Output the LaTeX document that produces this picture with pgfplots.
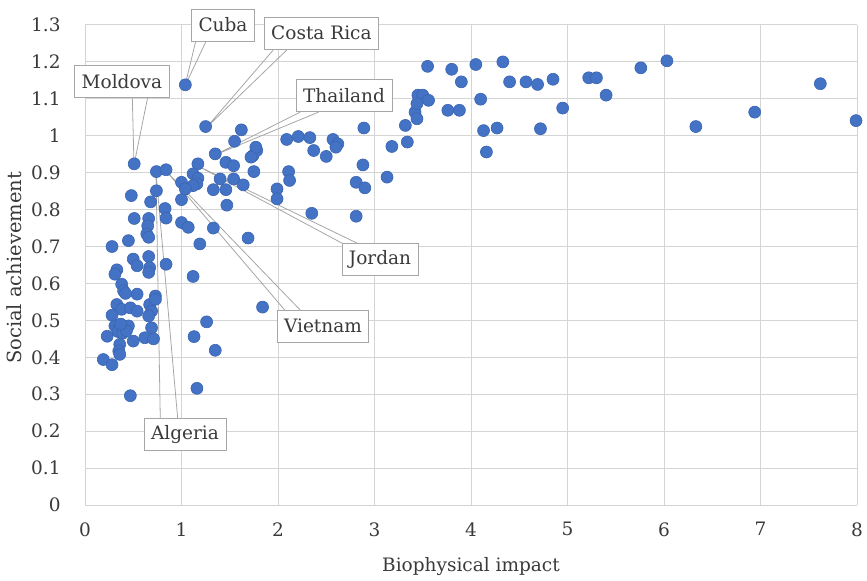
\documentclass[border=0pt]{standalone}
\usepackage{fontspec}
\setmainfont{DejaVu Serif}
\usepackage{pgfplots}
\pgfplotsset{compat=1.18}
\definecolor{dot}{HTML}{4472C4}
\definecolor{dotedge}{HTML}{3A65B0}
\definecolor{gridc}{HTML}{D4D4D4}
\definecolor{txt}{HTML}{3A3A3A}
\definecolor{callout}{HTML}{A6A6A6}
\begin{document}
\fontsize{18.5bp}{22bp}\selectfont
\begin{tikzpicture}
\begin{axis}[
 at={(0,0)}, anchor=south west,
 scale only axis, width=772bp, height=480bp,
 xmin=0, xmax=8, ymin=0, ymax=1.3,
 xtick={0,1,2,3,4,5,6,7,8},
 ytick={0,0.1,0.2,0.3,0.4,0.5,0.6,0.7,0.8,0.9,1,1.1,1.2,1.3},
 yticklabels={0,0.1,0.2,0.3,0.4,0.5,0.6,0.7,0.8,0.9,1,1.1,1.2,1.3},
 xticklabels={0,1,2,3,4,5,6,7,8},
 grid=major, major grid style={draw=gridc, line width=1pt},
 axis line style={draw=none}, tick style={draw=none},
 ticklabel style={font=\fontsize{18.5bp}{22bp}\selectfont, text=txt},
 yticklabel style={xshift=-18bp},
 xticklabel style={yshift=-11bp},
 /pgf/number format/assume math mode=true,
 xlabel={Biophysical impact}, ylabel={Social achievement},
 xlabel style={at={(axis description cs:0.5,-0.129)}, anchor=center, font=\fontsize{18.5bp}{22bp}\selectfont, text=txt},
 ylabel style={at={(axis description cs:-0.092,0.494)}, anchor=center, rotate=0, font=\fontsize{19.5bp}{22bp}\selectfont, text=txt},
 clip=false,
]
\addplot[only marks, mark=*, mark size=6bp, mark options={fill=dot, draw=dotedge, line width=0.6pt}] table {
x y
0.51 0.924
0.74 0.903
0.84 0.908
1.17 0.924
1.35 0.951
1.46 0.928
1.54 0.919
1.74 0.946
1.78 0.960
1.77 0.969
1.72 0.942
1.75 0.903
1.12 0.897
1.17 0.885
1.16 0.870
1.12 0.865
1.00 0.874
1.04 0.856
1.40 0.883
1.54 0.883
1.64 0.867
1.33 0.854
1.46 0.854
1.99 0.856
1.99 0.829
1.47 0.812
1.00 0.827
0.74 0.851
0.48 0.838
0.68 0.821
0.83 0.803
0.84 0.777
0.51 0.776
0.66 0.776
0.65 0.756
0.64 0.734
0.66 0.725
1.00 0.765
1.07 0.752
1.33 0.750
1.69 0.723
0.45 0.716
0.28 0.700
1.19 0.707
0.50 0.666
0.54 0.648
0.66 0.673
0.67 0.643
0.66 0.630
0.84 0.652
0.33 0.637
0.31 0.625
1.12 0.619
0.38 0.598
0.40 0.580
0.54 0.571
0.73 0.566
0.42 0.573
0.33 0.543
0.38 0.530
0.47 0.534
0.54 0.525
0.67 0.543
0.69 0.525
0.66 0.512
0.73 0.557
0.28 0.514
0.31 0.485
0.36 0.480
0.40 0.478
0.45 0.485
0.34 0.470
0.39 0.465
0.43 0.472
0.37 0.490
0.23 0.457
0.36 0.435
0.35 0.417
0.36 0.408
0.50 0.444
0.62 0.453
0.69 0.480
0.71 0.450
0.19 0.394
0.28 0.380
0.47 0.296
1.84 0.536
1.26 0.496
1.13 0.456
1.35 0.419
1.16 0.316
1.25 1.025
1.62 1.016
1.55 0.985
2.09 0.990
2.21 0.998
2.33 0.995
2.57 0.990
2.62 0.978
2.60 0.969
2.37 0.960
2.50 0.944
2.89 1.021
3.32 1.028
3.34 0.983
3.18 0.971
3.42 1.064
3.44 1.046
2.88 0.921
3.13 0.888
2.11 0.903
2.12 0.879
2.81 0.874
2.90 0.859
2.35 0.790
2.81 0.782
3.55 1.188
3.80 1.180
4.05 1.193
4.33 1.200
3.90 1.146
4.40 1.146
4.57 1.146
4.69 1.139
4.85 1.153
5.22 1.157
5.30 1.157
5.40 1.110
4.10 1.099
4.95 1.075
3.45 1.110
3.50 1.110
3.56 1.096
3.44 1.087
3.76 1.069
3.88 1.069
4.13 1.014
4.27 1.021
4.72 1.019
4.16 0.956
5.76 1.184
6.03 1.203
6.33 1.025
6.94 1.064
7.62 1.141
7.99 1.041
1.04 1.138
};
% callout leaders
\begin{scope}[draw=callout, line width=0.8pt]
\draw (axis cs:1.036,1.135) -- (axis cs:1.15,1.259) (axis cs:1.036,1.135) -- (axis cs:1.26,1.259);
\draw (axis cs:1.254,1.021) -- (axis cs:1.95,1.232) (axis cs:1.254,1.021) -- (axis cs:2.09,1.232);
\draw (axis cs:0.508,0.921) -- (axis cs:0.49,1.105) (axis cs:0.508,0.921) -- (axis cs:0.65,1.105);
\draw (axis cs:1.347,0.948) -- (axis cs:2.23,1.064) (axis cs:1.347,0.948) -- (axis cs:2.42,1.064);
\draw (axis cs:1.171,0.918) -- (axis cs:2.70,0.704) (axis cs:1.171,0.918) -- (axis cs:2.86,0.704);
\draw (axis cs:0.839,0.905) -- (axis cs:2.07,0.528) (axis cs:0.839,0.905) -- (axis cs:2.23,0.528);
\draw (axis cs:0.736,0.899) -- (axis cs:0.78,0.236) (axis cs:0.736,0.899) -- (axis cs:0.96,0.236);
\end{scope}
\tikzset{co/.style={draw=callout, line width=0.8pt, fill=white, text=txt, inner xsep=7bp, minimum height=32bp, font=\fontsize{18.5bp}{22bp}\selectfont}}
\node[co] at (axis cs:1.43,1.300) {Cuba};
\node[co] at (axis cs:2.45,1.278) {Costa Rica};
\node[co] at (axis cs:0.383,1.148) {Moldova};
\node[co] at (axis cs:2.684,1.108) {Thailand};
\node[co] at (axis cs:3.057,0.664) {Jordan};
\node[co] at (axis cs:2.466,0.485) {Vietnam};
\node[co] at (axis cs:1.036,0.192) {Algeria};
\end{axis}
\pgfresetboundingbox
\path[use as bounding box] (-85bp,-76bp) rectangle (782bp,505bp);
\end{tikzpicture}
\end{document}
